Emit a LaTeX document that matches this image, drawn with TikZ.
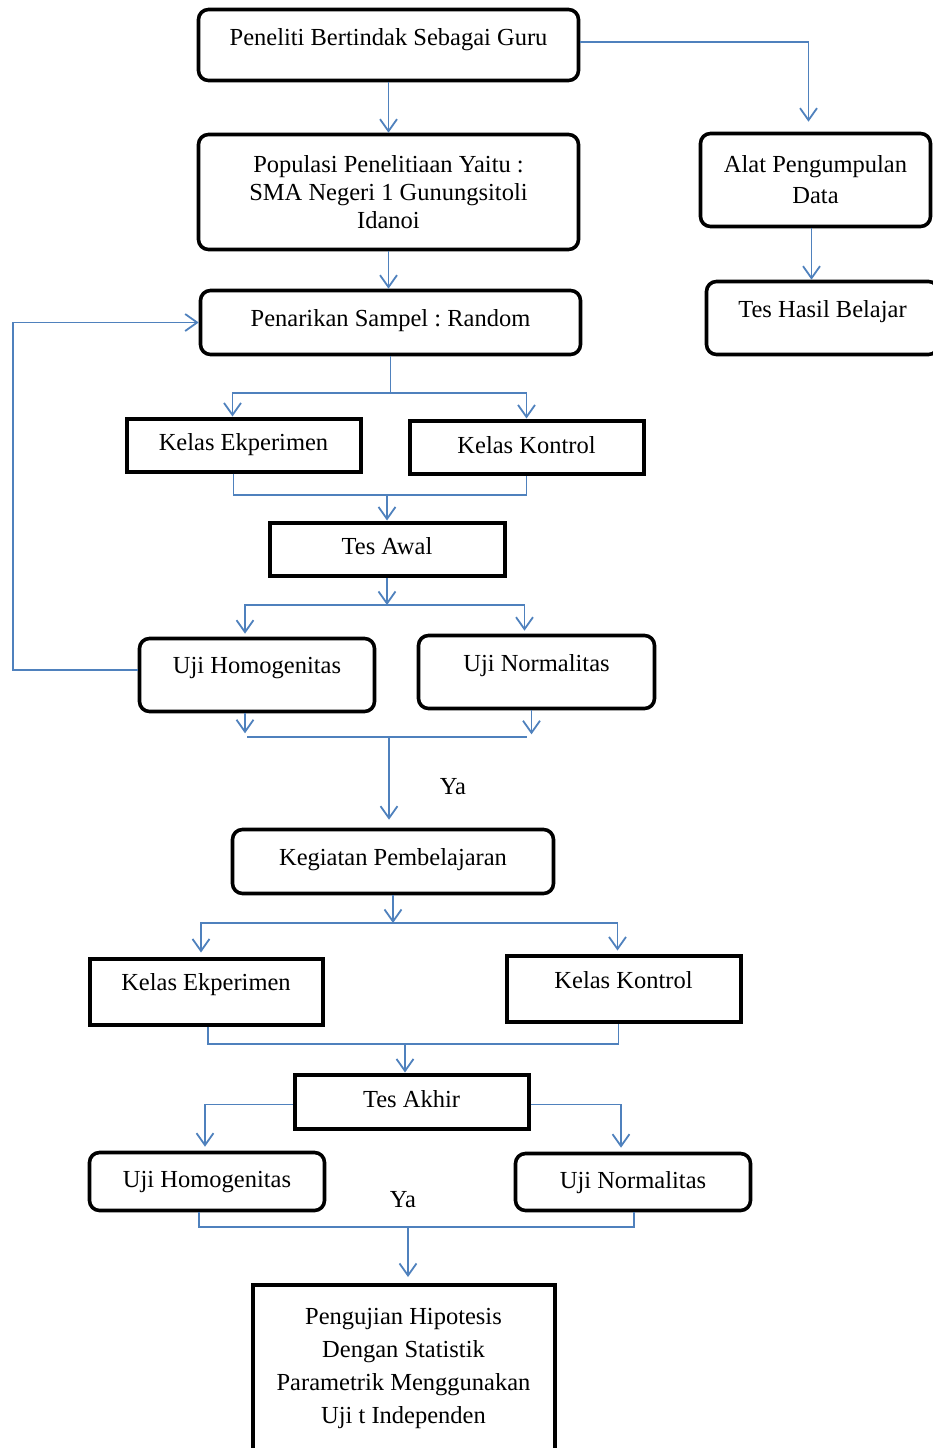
\documentclass[tikz,border=0pt]{standalone}
\usepackage{fontspec}
\setmainfont{Liberation Serif}
\usetikzlibrary{arrows.meta}
\definecolor{biru}{RGB}{79,129,189}
\frenchspacing

\begin{document}
\begin{tikzpicture}[
    x=1pt,y=-1pt,
    every node/.style={font=\fontsize{24.5}{31}\selectfont,align=center},
    kotak/.style={draw,line width=4pt,inner sep=0pt},
    kotakbulat/.style={kotak,line width=3.6pt,rounded corners=10pt},
    satu/.style={text height=17pt,text depth=#1},
    satu/.default=6pt,
    panah/.style={-{Straight Barb[length=12pt,width=17pt]},biru,line width=1.8pt},
    garis/.style={biru,line width=1.8pt}
  ]
    \useasboundingbox (0,0) rectangle (933,1448);

    % kolom utama
    \node[kotakbulat,satu=17pt,minimum width=380pt,minimum height=71pt] (guru)
      at (388.5,45) {Peneliti Bertindak Sebagai Guru};
    \node[kotakbulat,minimum width=380pt,minimum height=115pt,
      font=\fontsize{24.5}{28}\selectfont] (populasi)
      at (388.5,192) {Populasi Penelitiaan Yaitu :\\SMA Negeri 1 Gunungsitoli\\Idanoi};
    \node[kotakbulat,satu=10pt,minimum width=380pt,minimum height=64pt] (sampel)
      at (390.5,322.5) {Penarikan Sampel : Random};

    % kolom kanan
    \node[kotakbulat,minimum width=230pt,minimum height=93pt] (alat)
      at (815.5,180) {Alat Pengumpulan\\Data};
    \node[kotakbulat,satu=19pt,minimum width=232pt,minimum height=73pt] (teshasil)
      at (822.5,318) {Tes Hasil Belajar};

    % tes awal
    \node[kotak,satu=7pt,minimum width=234pt,minimum height=53pt] (eksp1)
      at (243.5,445) {Kelas Ekperimen};
    \node[kotak,satu=5pt,minimum width=234pt,minimum height=53pt] (kontrol1)
      at (526.5,447) {Kelas Kontrol};
    \node[kotak,satu=7pt,minimum width=235pt,minimum height=53pt] (tesawal)
      at (387,549) {Tes Awal};
    \node[kotakbulat,satu=21pt,minimum width=235pt,minimum height=73pt] (homog1)
      at (257,675) {Uji Homogenitas};
    \node[kotakbulat,satu=19pt,minimum width=236pt,minimum height=73pt] (normal1)
      at (536.5,672) {Uji Normalitas};
    \node (ya1) at (453,787) {Ya};

    % pembelajaran dan tes akhir
    \node[kotakbulat,satu=9pt,minimum width=321pt,minimum height=64pt] (kegiatan)
      at (393,861.5) {Kegiatan Pembelajaran};
    \node[kotak,satu=19pt,minimum width=233pt,minimum height=66pt] (eksp2)
      at (206,991.5) {Kelas Ekperimen};
    \node[kotak,satu=17pt,minimum width=234pt,minimum height=66pt] (kontrol2)
      at (623.5,988.5) {Kelas Kontrol};
    \node[kotak,satu=5pt,minimum width=234pt,minimum height=54pt] (tesakhir)
      at (411.5,1101.5) {Tes Akhir};
    \node[kotakbulat,satu=5pt,minimum width=235pt,minimum height=58pt] (homog2)
      at (207,1181.5) {Uji Homogenitas};
    \node[kotakbulat,satu=5pt,minimum width=235pt,minimum height=57pt] (normal2)
      at (633,1182) {Uji Normalitas};
    \node (ya2) at (403,1200) {Ya};
    \node[kotak,text depth=23pt,minimum width=302pt,minimum height=185pt,
      font=\fontsize{24.5}{33}\selectfont] (pengujian)
      at (403.5,1377.5) {Pengujian Hipotesis\\Dengan Statistik\\Parametrik Menggunakan\\Uji t Independen};

    % titik cabang
    \coordinate (j1) at (390,393);
    \coordinate (j2) at (387,495);
    \coordinate (j3) at (387,605);
    \coordinate (j4) at (389,737);
    \coordinate (j4a) at (247,737);
    \coordinate (j4b) at (527,737);
    \coordinate (j5) at (391,923);
    \coordinate (j6) at (405,1044);
    \coordinate (j7) at (408,1227);

    \draw[panah,shorten >=10pt] ([yshift=3pt]guru.east) -| ([xshift=-7pt]alat.north);
    \draw[panah] (guru) -- (populasi);
    \draw[panah] ([xshift=-4pt]alat.south) -- ([xshift=-4pt]teshasil.north -| alat.south);
    \draw[panah] (populasi.south) -- (populasi.south |- sampel.north);

    \draw[garis] (sampel.south) -- (sampel.south |- j1);
    \draw[panah] (j1) -| ([xshift=-11pt]eksp1.north);
    \draw[panah] (j1) -| (kontrol1.north);
    \draw[garis] ([xshift=-10pt]eksp1.south) |- (j2) -| (kontrol1.south);
    \draw[panah] (j2) -- (j2 |- tesawal.north);

    \draw[panah] (tesawal) -- (j3);
    \draw[panah,shorten >=3pt] (j3) -| ([xshift=-12pt]homog1.north);
    \draw[panah,shorten >=3pt] (j3) -| ([xshift=-12pt]normal1.north);
    \draw[panah] ([xshift=-12pt]homog1.south) -- ++(0,20);
    \draw[panah] ([xshift=-5pt]normal1.south) -- ++(0,24);
    \draw[garis] (j4a) -- (j4b);
    \draw[panah,shorten >=8pt] (j4) -- (j4 |- kegiatan.north);
    \draw[panah] ([yshift=5pt]homog1.west) -- ++(-125,0) |- (sampel.west);

    \draw[panah] (kegiatan.south) -- (kegiatan.south |- j5);
    \draw[panah,shorten >=4pt] (j5) -| ([xshift=-5pt]eksp2.north);
    \draw[panah,shorten >=3pt] (j5) -| ([xshift=-6pt]kontrol2.north);
    \draw[garis] ([xshift=2pt]eksp2.south) |- (j6) -| ([xshift=-5pt]kontrol2.south);
    \draw[panah] (j6) -- (j6 |- tesakhir.north);

    \draw[panah,shorten >=4pt] ([yshift=-3pt]tesakhir.west) -| ([xshift=-2pt]homog2.north);
    \draw[panah,shorten >=4pt] ([yshift=-3pt]tesakhir.east) -| ([xshift=-12pt]normal2.north);
    \draw[garis] ([xshift=-8pt]homog2.south) |- (j7) -| ([xshift=1pt]normal2.south);
    \draw[panah,shorten >=6pt] (j7) -- (j7 |- pengujian.north);
\end{tikzpicture}
\end{document}
